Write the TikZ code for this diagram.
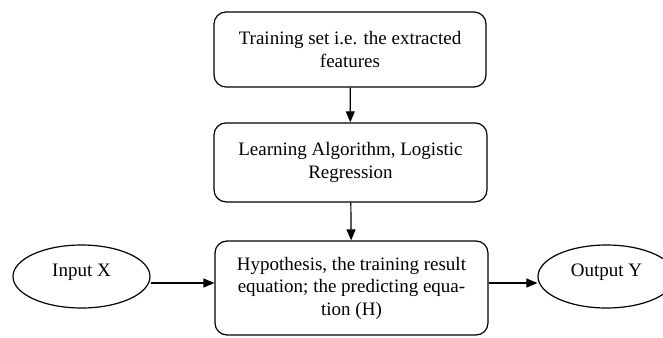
\documentclass[tikz,border=0pt]{standalone}
\usepackage{fontspec}
\setmainfont{Liberation Serif}
\usetikzlibrary{shapes.geometric,arrows.meta}
\begin{document}
\begin{tikzpicture}[x=1pt,y=-1pt,
  box/.style={draw,rounded corners=12pt,line width=1.2pt,align=center,inner sep=0pt,font=\fontsize{19}{22.5}\selectfont},
  oval/.style={draw,ellipse,line width=1.2pt,minimum width=137pt,minimum height=63pt,inner sep=0pt,font=\fontsize{19}{22.5}\selectfont,text height=13pt,text depth=13pt},
  arr/.style={line width=1.2pt,-{Triangle[length=11pt,width=9pt]}}]
\useasboundingbox (0,0) rectangle (663,337);
\clip (0,0) rectangle (663,337);
\node[box,minimum width=272pt,minimum height=75pt] (ts) at (350,49.5) {Training set i.e. the extracted\\features};
\node[box,minimum width=273pt,minimum height=79pt] (la) at (350.5,162.4) {Learning Algorithm, Logistic\\Regression};
\node[box,minimum width=273pt,minimum height=94pt] (hyp) at (351.5,288) {Hypothesis, the training result\\equation; the predicting equa-\\tion (H)};
\node[oval] (inx) at (81.5,276.5) {Input X};
\node[oval] (outy) at (606.5,276.5) {Output Y};
\draw[arr] (ts) -- (la);
\draw[arr] (la) -- (hyp);
\draw[arr] ([yshift=-6.5pt]inx.east) -- ([yshift=-6.5pt]inx.east -| hyp.west);
\draw[arr] ([yshift=-6.5pt]outy.west -| hyp.east) -- ([yshift=-6.5pt]outy.west);
\end{tikzpicture}
\end{document}
